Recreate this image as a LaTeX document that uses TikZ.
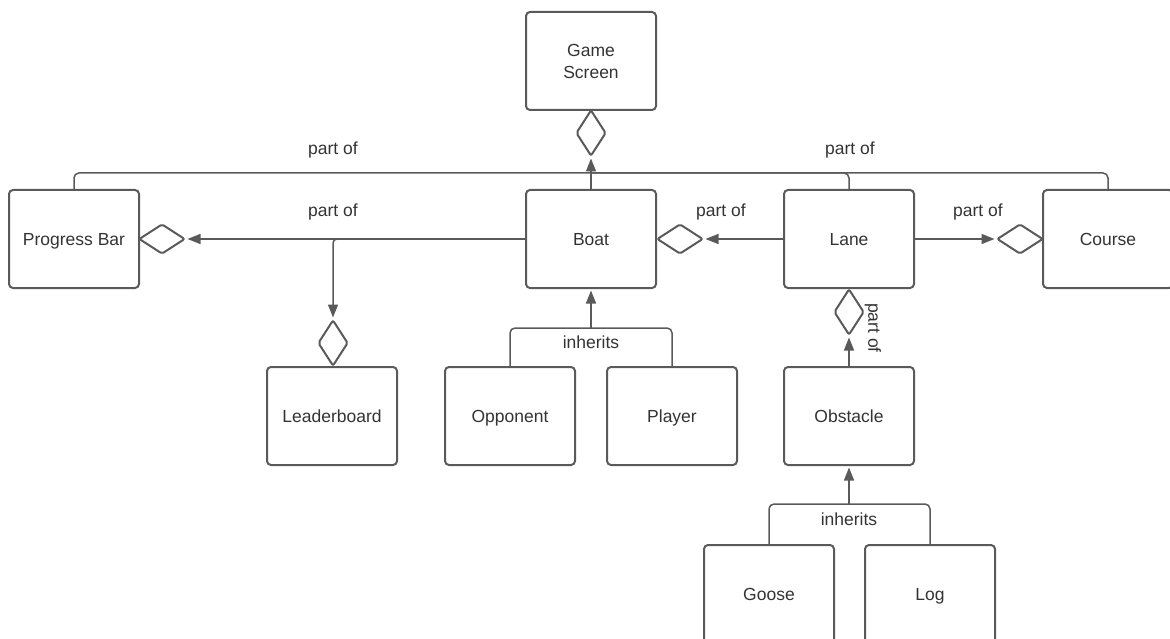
\documentclass[tikz,border=0pt]{standalone}
\usepackage{fontspec}
\setmainfont{Liberation Sans}
\usepackage{xcolor}
\usetikzlibrary{arrows.meta,shapes.geometric}

\definecolor{linegray}{HTML}{5A5A5A}
\definecolor{textgray}{HTML}{333333}
\newcommand{\dfont}{\fontsize{17.5}{22}\selectfont}

\tikzset{
  classbase/.style={draw=linegray,line width=2pt,rounded corners=4pt,
    minimum width=130pt,minimum height=98pt,inner sep=0pt,
    text=textgray,font=\dfont,align=center},
  classbox/.style={classbase,text height=12.5pt,text depth=0pt},
  vdiam/.style={diamond,draw=linegray,line width=2pt,rounded corners=2pt,
    minimum width=30pt,minimum height=46pt,inner sep=0pt},
  hdiam/.style={diamond,draw=linegray,line width=2pt,rounded corners=2pt,
    minimum width=46pt,minimum height=30pt,inner sep=0pt},
  conn/.style={draw=linegray,line width=1.5pt},
  arr/.style={conn,-{Triangle[length=13pt,width=10pt]},shorten >=1.5pt},
  lbl/.style={text=textgray,font=\dfont,inner sep=1pt}
}

\begin{document}
\begin{tikzpicture}[x=1pt,y=-1pt]
    \useasboundingbox (0,0) rectangle (1170,639);
    \clip (0,0) rectangle (1170,639);

    % classes
    \node[classbase] (gs) at (591,61) {Game\\Screen};
    \node[classbox] (pbar) at (74,239) {Progress Bar};
    \node[classbox] (boat) at (591,239) {Boat};
    \node[classbox] (lane) at (849,239) {Lane};
    \node[classbox] (course) at (1108,239) {Course};
    \node[classbox] (lboard) at (332,416) {Leaderboard};
    \node[classbox] (opp) at (510,416) {Opponent};
    \node[classbox] (player) at (672,416) {Player};
    \node[classbox] (obst) at (849,416) {Obstacle};
    \node[classbox] (goose) at (769,594) {Goose};
    \node[classbox] (log) at (930,594) {Log};

    % aggregation diamonds
    \node[vdiam] (gsd) at (591,133) {};
    \node[hdiam] (pbd) at (162,239) {};
    \node[hdiam] (bd) at (680,239) {};
    \node[hdiam] (cd) at (1020,239) {};
    \node[vdiam] (lbd) at (333,343) {};
    \node[vdiam] (ld) at (849,312) {};

    \coordinate (bus) at (591,173);
    \coordinate (inhb) at (591,328);
    \coordinate (inho) at (849,504);

    % part of
    \draw[conn,rounded corners=5pt] (pbar.north) |- (bus) -| (course.north);
    \draw[conn,rounded corners=5pt] (lane.north) |- (bus);
    \draw[conn] (boat.north) -- (bus);
    \draw[arr] (bus) -- (gsd.south);
    \draw[arr] (boat.west) -- (pbd.east);
    \draw[arr,rounded corners=4pt] (boat.west) -| (lbd.north);
    \draw[arr] (lane.west) -- (bd.east);
    \draw[arr] (lane.east) -- (cd.west);
    \draw[arr] (obst.north) -- (ld.south);

    % inherits
    \draw[conn,rounded corners=5pt] (opp.north) |- (inhb) -| (player.north);
    \draw[arr] (inhb) -- (boat.south);
    \draw[conn,rounded corners=5pt] (goose.north) |- (inho) -| (log.north);
    \draw[arr] (inho) -- (obst.south);

    \node[lbl] (l1) at (333,150) {part of};
    \node[lbl] (l2) at (850,150) {part of};
    \node[lbl] (l3) at (333,212) {part of};
    \node[lbl] (l4) at (721,212) {part of};
    \node[lbl] (l5) at (978,212) {part of};
    \node[lbl,rotate=-90] (l6) at (873,328) {part of};
    \node[lbl] (l7) at (591,342) {inherits};
    \node[lbl] (l8) at (849,519) {inherits};
\end{tikzpicture}
\end{document}
